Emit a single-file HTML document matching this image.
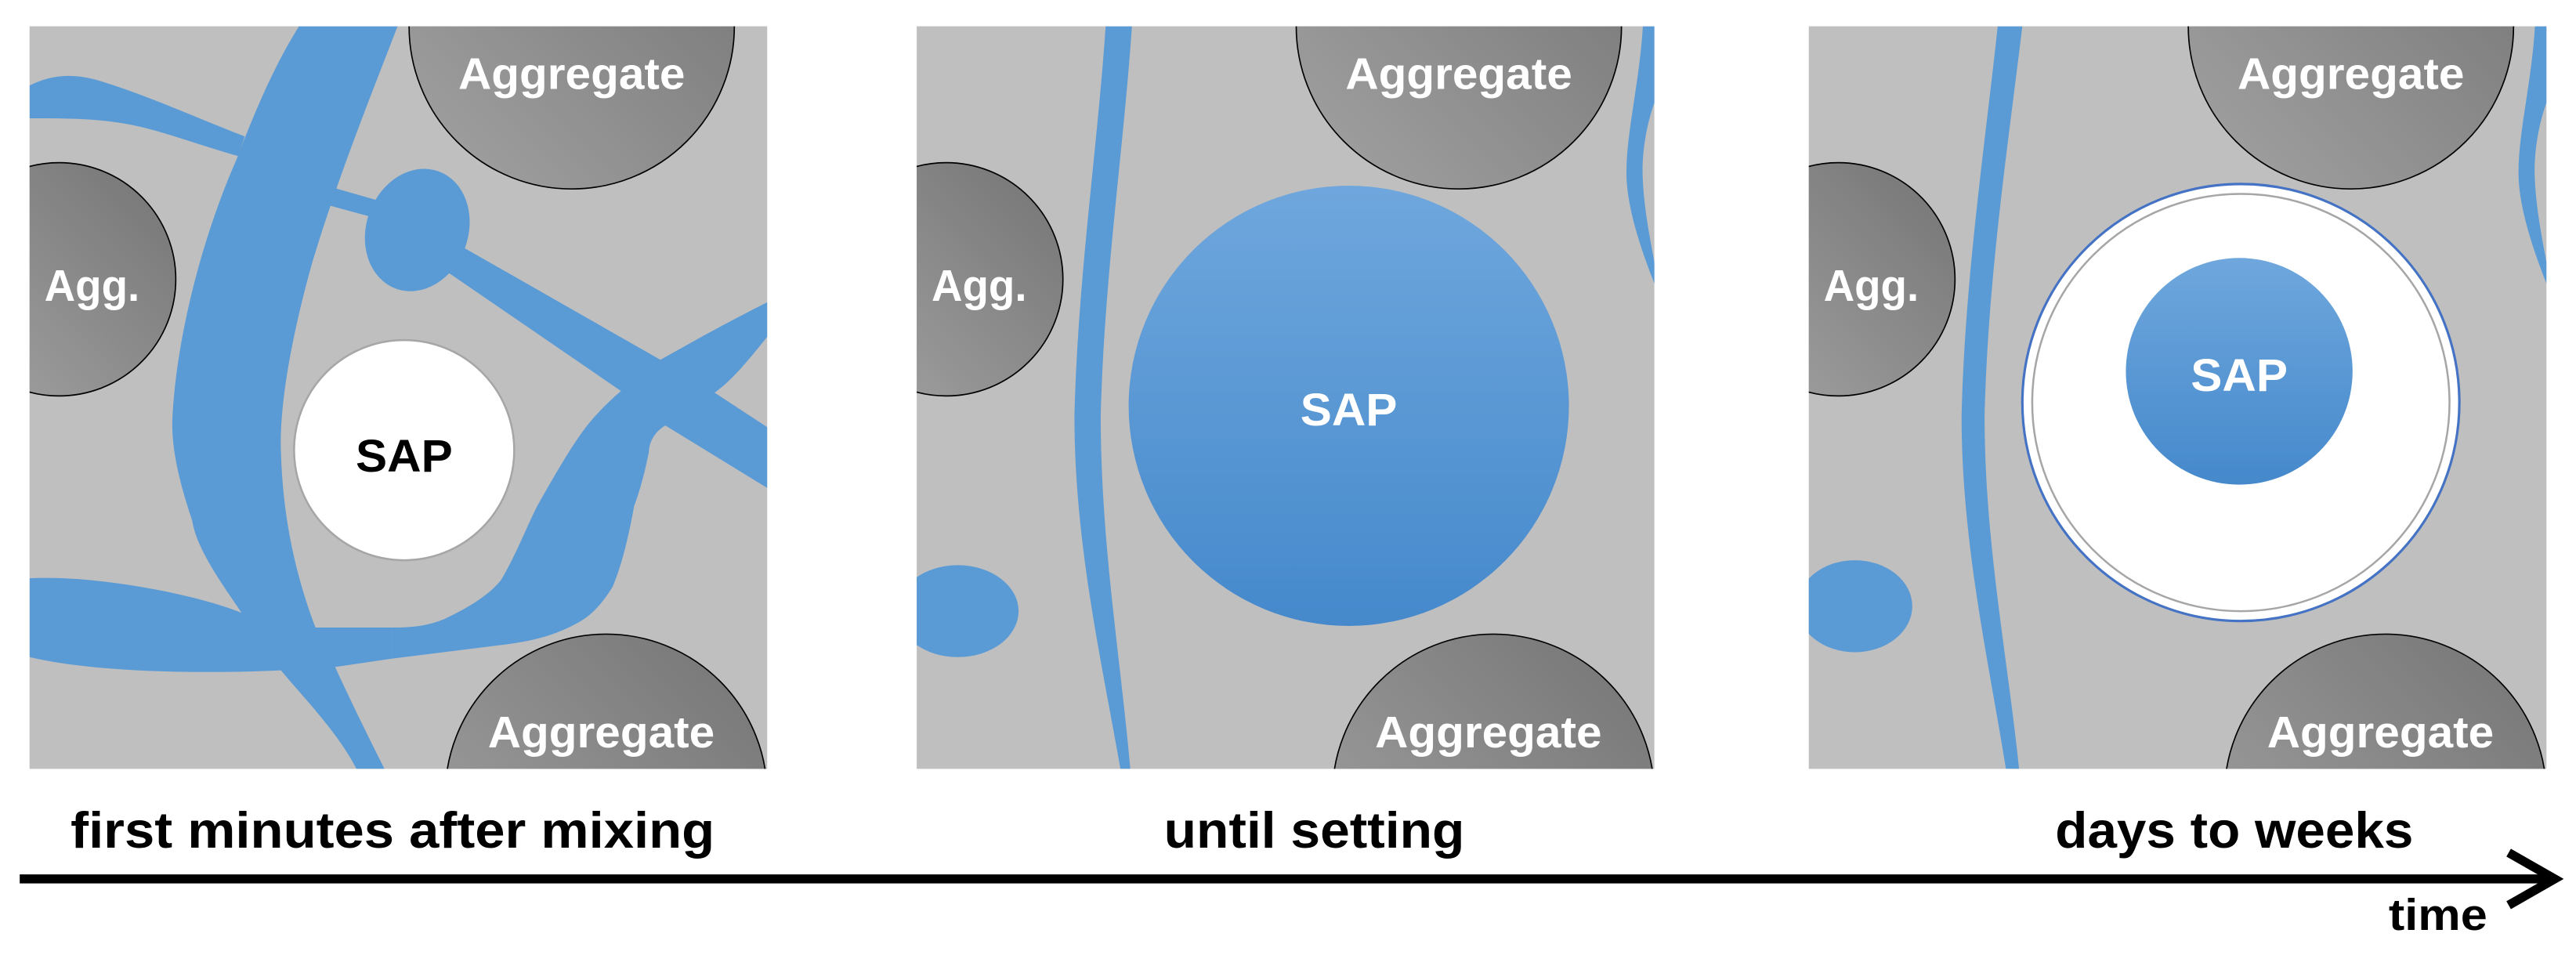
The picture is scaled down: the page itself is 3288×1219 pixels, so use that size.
<!DOCTYPE html>
<html><head><meta charset="utf-8"><style>html,body{margin:0;padding:0;background:#fff}svg{display:block}</style></head><body>
<svg width="3288" height="1219" viewBox="0 0 1568 581.3" xmlns="http://www.w3.org/2000/svg" font-family="'Liberation Sans', sans-serif" font-weight="bold">
<defs>
<linearGradient id="ag" x1="0" y1="1" x2="1" y2="0"><stop offset="0" stop-color="#a3a3a3"/><stop offset="1" stop-color="#747474"/></linearGradient>
<linearGradient id="sg" x1="0" y1="0" x2="0" y2="1"><stop offset="0" stop-color="#6fa7dd"/><stop offset="1" stop-color="#4589cc"/></linearGradient>
<clipPath id="c1"><rect x="18" y="16" width="449" height="452"/></clipPath>
<clipPath id="c2"><rect x="558" y="16" width="449" height="452"/></clipPath>
<clipPath id="c3"><rect x="1101" y="16" width="449" height="452"/></clipPath>
<g id="aggs">
<circle cx="348" cy="16" r="99" fill="url(#ag)" stroke="#000" stroke-width="0.8"/>
<text x="348" y="54" fill="#fff" font-size="27" text-anchor="middle" textLength="138" lengthAdjust="spacingAndGlyphs">Aggregate</text>
<circle cx="36" cy="170" r="71" fill="url(#ag)" stroke="#000" stroke-width="0.8"/>
<text x="56" y="183" fill="#fff" font-size="27" text-anchor="middle" textLength="58" lengthAdjust="spacingAndGlyphs">Agg.</text>
<circle cx="369" cy="484" r="98" fill="url(#ag)" stroke="#000" stroke-width="0.8"/>
<text x="366" y="455" fill="#fff" font-size="27" text-anchor="middle" textLength="138" lengthAdjust="spacingAndGlyphs">Aggregate</text>
</g>
</defs>

<!-- Panel 1 -->
<rect x="18" y="16" width="449" height="452" fill="#bfbfbf"/>
<g clip-path="url(#c1)">
<g fill="#5b9bd5">
<path d="M182,16 L242,16 C225,60 205,110 190,160 C176,210 170,250 171,275 C172,310 178,345 192,382 L238,382 L238,401 L204,406 C215,430 225,450 234,468 L217,468 C205,445 185,425 171,408 C130,410 60,410 18,400 L18,352 C60,350 120,362 147,373 C135,355 120,335 117,317 C108,290 104,270 105,253 C108,200 125,140 144,97 C158,60 170,35 182,16 Z"/>
<path d="M18,52 C30,46 43,44 60,49 C90,58 120,72 149,83 L145,95 C120,88 100,80 80,76 C60,72 40,72 18,72 Z"/>
<path d="M195,112 L230,122 L226,132 L193,123 Z"/>
<ellipse cx="254" cy="140" rx="31" ry="38" transform="rotate(20 254 140)"/>
<path d="M270,148 L281,150 L402,219 L435,239 L467,260 L467,297 L405,259 L378,238 L273,166 Z"/>
<path d="M467,184 L467,205 C455,220 445,232 435,239 L405,259 C398,263 395,270 395,275 C392,290 389,300 386,308 C382,330 378,345 373,357 C365,370 358,376 350,380 C335,388 320,391 302,393 L238,401 L238,382 C255,382 262,380 270,377 C285,370 298,362 305,353 C313,340 320,322 327,308 C340,285 350,268 359,257 C365,250 372,243 378,238 C395,225 400,220 402,219 C425,206 445,195 467,184 Z"/>
</g>
<circle cx="246" cy="274" r="67" fill="#fff" stroke="#a6a6a6" stroke-width="1.2"/>
<text x="246" y="287" fill="#000" font-size="28" text-anchor="middle" textLength="59" lengthAdjust="spacingAndGlyphs">SAP</text>
<use href="#aggs"/>
</g>

<!-- Panel 2 -->
<rect x="558" y="16" width="449" height="452" fill="#bfbfbf"/>
<g clip-path="url(#c2)">
<g fill="#5b9bd5">
<path d="M673,16 L689,16 C684,90 672,170 670,253 C670,330 682,400 688,468 L682,468 C670,400 654,330 654,253 C656,170 668,90 673,16 Z"/>
<path d="M1000,16 L1008,16 L1008,60 C1002,75 999,95 1000,110 C1001,130 1005,148 1008,165 L1008,175 C998,150 990,125 990,105 C990,80 998,50 1000,16 Z"/>
<ellipse cx="583" cy="372" rx="37" ry="28"/>
</g>
<circle cx="821" cy="247" r="134" fill="url(#sg)"/>
<text x="821" y="259" fill="#fff" font-size="28" text-anchor="middle" textLength="59" lengthAdjust="spacingAndGlyphs">SAP</text>
<use href="#aggs" transform="translate(540 0)"/>
</g>

<!-- Panel 3 -->
<rect x="1101" y="16" width="449" height="452" fill="#bfbfbf"/>
<g clip-path="url(#c3)">
<g fill="#5b9bd5">
<path d="M1216,16 L1231,16 C1222,90 1210,170 1208,253 C1208,330 1222,400 1229,468 L1221,468 C1210,400 1194,330 1194,253 C1196,170 1208,90 1216,16 Z"/>
<path d="M1543,16 L1551,16 L1551,60 C1545,75 1542,95 1543,110 C1544,130 1548,148 1551,165 L1551,175 C1541,150 1533,125 1533,105 C1533,80 1541,50 1543,16 Z"/>
<ellipse cx="1129" cy="369" rx="35" ry="28"/>
</g>
<use href="#aggs" transform="translate(1083 0)"/>
<circle cx="1364" cy="245" r="133" fill="#fff" stroke="#4472c4" stroke-width="1.5"/>
<circle cx="1364" cy="245" r="127" fill="none" stroke="#a6a6a6" stroke-width="1.2"/>
<circle cx="1363" cy="226" r="69" fill="url(#sg)"/>
<text x="1363" y="238" fill="#fff" font-size="28" text-anchor="middle" textLength="59" lengthAdjust="spacingAndGlyphs">SAP</text>
</g>

<!-- Labels -->
<text x="239" y="516" fill="#000" font-size="31" text-anchor="middle" textLength="392" lengthAdjust="spacingAndGlyphs">first minutes after mixing</text>
<text x="800" y="516" fill="#000" font-size="31" text-anchor="middle" textLength="183" lengthAdjust="spacingAndGlyphs">until setting</text>
<text x="1360" y="516" fill="#000" font-size="31" text-anchor="middle" textLength="218" lengthAdjust="spacingAndGlyphs">days to weeks</text>
<text x="1484" y="566" fill="#000" font-size="27" text-anchor="middle" textLength="60" lengthAdjust="spacingAndGlyphs">time</text>

<!-- Arrow -->
<line x1="12" y1="535" x2="1552" y2="535" stroke="#000" stroke-width="5.5"/>
<polyline points="1527,519 1555,535 1527,551" fill="none" stroke="#000" stroke-width="5.5" stroke-linejoin="miter"/>
</svg>
</body></html>
